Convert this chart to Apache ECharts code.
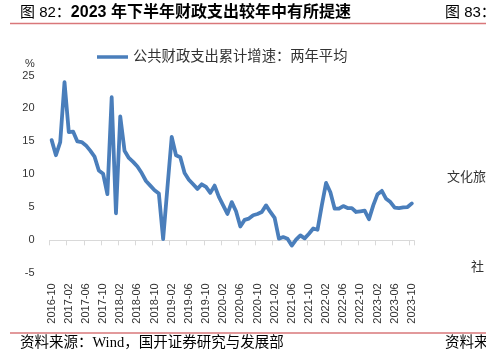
<!DOCTYPE html>
<html>
<head>
<meta charset="utf-8">
<script src="https://cdn.jsdelivr.net/npm/echarts@6/dist/echarts.min.js"></script>
<style>
html,body{margin:0;padding:0;background:#fff;}
#chart{width:486px;height:359px;}
</style>
</head>
<body>
<div id="chart"></div>
<script>
var categories = [
'2016-10','2016-11','2016-12',
'2017-01','2017-02','2017-03','2017-04','2017-05','2017-06','2017-07','2017-08','2017-09','2017-10','2017-11','2017-12',
'2018-01','2018-02','2018-03','2018-04','2018-05','2018-06','2018-07','2018-08','2018-09','2018-10','2018-11','2018-12',
'2019-01','2019-02','2019-03','2019-04','2019-05','2019-06','2019-07','2019-08','2019-09','2019-10','2019-11','2019-12',
'2020-01','2020-02','2020-03','2020-04','2020-05','2020-06','2020-07','2020-08','2020-09','2020-10','2020-11','2020-12',
'2021-01','2021-02','2021-03','2021-04','2021-05','2021-06','2021-07','2021-08','2021-09','2021-10','2021-11','2021-12',
'2022-01','2022-02','2022-03','2022-04','2022-05','2022-06','2022-07','2022-08','2022-09','2022-10','2022-11','2022-12',
'2023-01','2023-02','2023-03','2023-04','2023-05','2023-06','2023-07','2023-08','2023-09','2023-10'
];
var seriesName = '公共财政支出累计增速：两年平均';
var spendingGrowth = [
15.2, 12.9, 14.9,
24.0, 16.4, 16.5, 15.0, 14.9, 14.4, 13.6, 12.7, 10.6, 10.1, 7.0, 21.7,
4.1, 18.8, 13.6, 12.5, 11.9, 11.2, 10.2, 9.0, 8.3, 7.6, 7.1, 0.2,
8.0, 15.7, 12.9, 12.6, 10.2, 9.2, 8.5, 7.8, 8.5, 8.1, 7.2, 8.3,
6.6, 5.3, 4.0, 5.8, 4.4, 2.1, 3.1, 3.3, 3.8, 4.0, 4.3, 5.3,
4.3, 3.4, 0.25, 0.5, 0.25, -0.8, 0.1, 0.75, 0.3, 1.0, 1.8, 1.6,
5.3, 8.7, 7.3, 4.8, 4.8, 5.2, 4.9, 4.9, 4.3, 4.4, 4.5, 3.2,
5.3, 7.0, 7.5, 6.3, 5.8, 4.95, 4.9, 5.0, 5.05, 5.6
];
var yTicks = {min: -5, max: 25, interval: 5};

var sansFont = "'Liberation Sans', Arial, 'Noto Sans CJK SC', sans-serif";
var serifFont = "'Liberation Serif', 'Noto Sans CJK SC', serif";

var chart = echarts.init(document.getElementById('chart'), null, {renderer: 'canvas'});
var option = {
  backgroundColor: '#fff',
  animation: false,
  title: [{
    text: '{a|图 82：}{b|2023 年下半年财政支出较年中有所提速}',
    left: 20, top: 4, padding: 0,
    textStyle: {
      fontWeight: 'normal',
      rich: {
        a: {fontSize: 15, fontWeight: 'normal', fontFamily: sansFont, color: '#000', lineHeight: 18},
        b: {fontSize: 16, fontWeight: 'bold', fontFamily: sansFont, color: '#000', lineHeight: 18}
      }
    }
  }, {
    text: '资料来源：Wind，国开证券研究与发展部',
    left: 20, top: 335, padding: 0,
    textStyle: {fontSize: 14.5, fontWeight: 'normal', fontFamily: serifFont, color: '#000', lineHeight: 17}
  }],
  legend: {
    left: 97, top: 49, padding: 0,
    icon: 'rect', itemWidth: 31, itemHeight: 3.5,
    data: [seriesName],
    textStyle: {fontSize: 14.3, fontFamily: serifFont, color: '#333', lineHeight: 16}
  },
  grid: {left: 49.5, top: 75.5, width: 364.5, height: 197.8, containLabel: false, outerBoundsMode: 'none'},
  xAxis: [{
    type: 'category',
    data: categories,
    boundaryGap: true,
    position: 'bottom',
    axisLine: {show: true, onZero: true, lineStyle: {color: '#D9D9D9', width: 1}},
    axisTick: {show: true, interval: 3, length: 5, lineStyle: {color: '#D9D9D9'}},
    axisLabel: {show: false},
    splitLine: {show: false}
  }, {
    type: 'category',
    data: categories,
    boundaryGap: true,
    position: 'bottom',
    axisLine: {show: false, onZero: false},
    axisTick: {show: false},
    axisLabel: {show: true, interval: 3, rotate: 90, margin: 10, fontSize: 11, fontFamily: sansFont, color: '#333'},
    splitLine: {show: false}
  }],
  yAxis: {
    type: 'value',
    min: yTicks.min, max: yTicks.max, interval: yTicks.interval,
    axisLine: {show: false},
    axisTick: {show: false},
    splitLine: {show: false},
    axisLabel: {fontSize: 11, fontFamily: sansFont, color: '#333', margin: 15}
  },
  series: [{
    name: seriesName,
    type: 'line',
    xAxisIndex: 0,
    data: spendingGrowth,
    showSymbol: false,
    symbol: 'none',
    lineStyle: {color: '#4A7EBB', width: 3.8, join: 'round', cap: 'round'},
    itemStyle: {color: '#4A7EBB'}
  }],
  graphic: [
    {type: 'line', shape: {x1: 10, y1: 23.5, x2: 486, y2: 23.5}, style: {stroke: '#D9777A', lineWidth: 1.5}},
    {type: 'line', shape: {x1: 10, y1: 333, x2: 486, y2: 333}, style: {stroke: '#D9777A', lineWidth: 1.5}},
    {type: 'text', x: 30, y: 63.5, style: {text: '%', fontSize: 11, fontFamily: sansFont, fill: '#333', textAlign: 'center', textVerticalAlign: 'middle'}},
    {type: 'text', x: 445, y: 13, style: {text: '图 83：', fontSize: 15, fontWeight: 'normal', fontFamily: sansFont, fill: '#000', textAlign: 'left', textVerticalAlign: 'middle'}},
    {type: 'text', x: 447, y: 178, style: {text: '文化旅游', fontSize: 13, fontFamily: serifFont, fill: '#333', textAlign: 'left', textVerticalAlign: 'middle'}},
    {type: 'text', x: 471, y: 268, style: {text: '社', fontSize: 13, fontFamily: serifFont, fill: '#333', textAlign: 'left', textVerticalAlign: 'middle'}},
    {type: 'text', x: 445, y: 343.5, style: {text: '资料来', fontSize: 14.5, fontFamily: serifFont, fill: '#000', textAlign: 'left', textVerticalAlign: 'middle'}}
  ]
};
chart.setOption(option);
</script>
</body>
</html>
